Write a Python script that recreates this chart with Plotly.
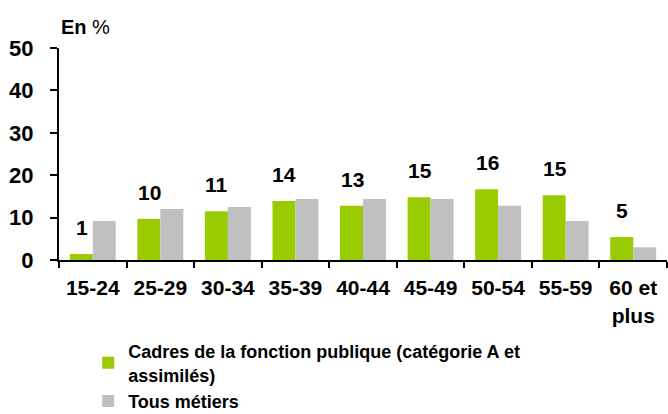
import plotly.graph_objects as go

age_groups = ["15-24", "25-29", "30-34", "35-39", "40-44", "45-49", "50-54", "55-59", "60 et<br>plus"]
cadres_fp = [1.4, 9.7, 11.5, 13.9, 12.8, 14.8, 16.7, 15.3, 5.4]
tous_metiers = [9.2, 12.0, 12.5, 14.4, 14.4, 14.4, 12.8, 9.2, 3.0]
cadres_labels = ["1", "10", "11", "14", "13", "15", "16", "15", "5"]

FONT = "Liberation Sans"

fig = go.Figure()
fig.add_trace(go.Bar(
    x=age_groups, y=cadres_fp,
    name="<b>Cadres de la fonction publique (catégorie A et<br>assimilés)</b>",
    marker=dict(color="#99CC00", line=dict(width=0)),
))
fig.add_trace(go.Bar(
    x=age_groups, y=tous_metiers,
    name="<b>Tous métiers</b>",
    marker=dict(color="#C0C0C0", line=dict(width=0)),
))

# labels au-dessus des barres vertes
for cat, val, lab in zip(age_groups, cadres_fp, cadres_labels):
    fig.add_annotation(
        x=cat, y=val, xref="x", yref="y", text="<b>%s</b>" % lab,
        showarrow=False, yanchor="bottom", yshift=13, xshift=-11,
        font=dict(family=FONT, size=21, color="black"),
    )

# titre de l'axe
fig.add_annotation(
    text="<b>En</b> %", xref="paper", yref="paper", x=0.0, y=1.04,
    xanchor="left", yanchor="bottom", showarrow=False,
    font=dict(family=FONT, size=20, color="black"),
)

fig.update_layout(
    width=668, height=414,
    margin=dict(l=59, r=1, t=48, b=154, autoexpand=False),
    plot_bgcolor="white", paper_bgcolor="white",
    barmode="group", bargap=0.32, bargroupgap=0,
    font=dict(family=FONT, color="black"),
    showlegend=True,
    legend=dict(
        x=0.048, y=-0.344, xanchor="left", yanchor="top",
        orientation="v", tracegroupgap=0, itemwidth=30,
        font=dict(family=FONT, size=18, color="black"),
        bgcolor="rgba(0,0,0,0)",
    ),
)

fig.update_xaxes(
    automargin=False, tickangle=0,
    showline=True, linecolor="black", linewidth=2,
    ticks="outside", tickson="boundaries", ticklen=6, tickcolor="black", tickwidth=2,
    tickfont=dict(family=FONT, size=21, color="black"),
    tickprefix="<b>", ticksuffix="</b>", ticklabelstandoff=8,
    showgrid=False,
)
fig.update_yaxes(
    automargin=False,
    range=[0, 50], dtick=10,
    showline=True, linecolor="black", linewidth=2,
    ticks="outside", ticklen=7, tickcolor="black", tickwidth=2,
    tickfont=dict(family=FONT, size=22, color="black"),
    tickprefix="<b>", ticksuffix="</b>", ticklabelstandoff=12,
    showgrid=False, zeroline=False,
)

# pas de marge autour du graphique dans la page
fig.write_html("out.html", config={"displayModeBar": False},
               post_script="document.body.style.margin = '0';")
